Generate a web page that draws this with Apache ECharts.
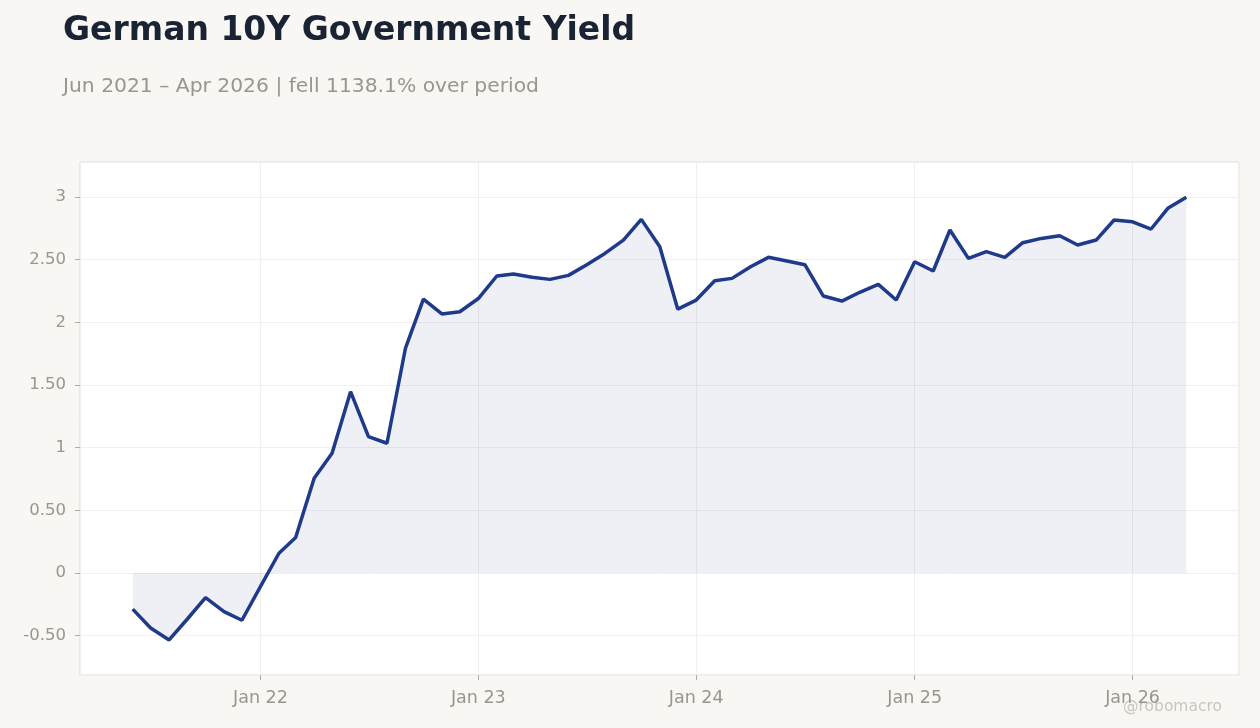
<!DOCTYPE html>
<html>
<head>
<meta charset="utf-8">
<script src="https://cdn.jsdelivr.net/npm/echarts@6/dist/echarts.min.js"></script>
<style>
  html, body { margin: 0; padding: 0; background: #f8f7f4; }
  #chart { width: 1260px; height: 728px; }
</style>
</head>
<body>
<div id="chart"></div>
<script>
// monthly readings, first of month
var startMonth = [2021, 5]; // Jun 2021 (month index 0-based)
var yields = [
  -0.289, -0.44, -0.535, -0.366, -0.197, -0.309, -0.378,       // Jun-Dec 21
  -0.11, 0.157, 0.282, 0.755, 0.955, 1.447, 1.088, 1.035, 1.795, 2.186, 2.067, 2.085, // 22
  2.19, 2.37, 2.386, 2.36, 2.343, 2.375, 2.458, 2.55, 2.657, 2.822, 2.604, 2.106,     // 23
  2.178, 2.332, 2.351, 2.444, 2.519, 2.49, 2.46, 2.21, 2.17, 2.24, 2.303, 2.178,      // 24
  2.484, 2.41, 2.737, 2.511, 2.564, 2.519, 2.636, 2.67, 2.691, 2.617, 2.657, 2.817,   // 25
  2.803, 2.745, 2.91, 2.998                                                          // Jan-Apr 26
];

var titleText = 'German 10Y Government Yield';
var subText = 'Jun 2021 \u2013 Apr 2026 | fell 1138.1% over period';

var lineColor = '#1f3a8a';
var labelColor = '#9a958f';

var points = yields.map(function (v, i) {
  return [Date.UTC(startMonth[0], startMonth[1] + i, 1), v];
});

// 5% padding on each side of the time range
var t0 = points[0][0], t1 = points[points.length - 1][0];
var pad = (t1 - t0) * 0.05;

var myChart = echarts.init(document.getElementById('chart'));

var option = {
  backgroundColor: '#f8f7f4',
  textStyle: { fontFamily: 'DejaVu Sans' },
  title: [{
    text: titleText,
    left: 58,
    top: 10,
    textStyle: { fontSize: 33, fontWeight: 'bold', color: '#1a2333', fontFamily: 'DejaVu Sans' }
  }, {
    text: subText,
    left: 58,
    top: 72,
    textStyle: { fontSize: 20.3, fontWeight: 'normal', color: '#9a958f', fontFamily: 'DejaVu Sans' }
  }],
  graphic: [{
    type: 'text',
    right: 38,
    bottom: 13,
    style: { text: '@robomacro', fontSize: 15.5, fill: '#c9c6c1', fontFamily: 'DejaVu Sans' }
  }],
  grid: {
    left: 80, right: 21, top: 162, bottom: 53,
    show: true,
    backgroundColor: '#ffffff',
    borderColor: '#e0dbd3',
    borderWidth: 1
  },
  xAxis: {
    type: 'time',
    min: t0 - pad,
    max: t1 + pad,
    splitNumber: 5,
    minInterval: 365 * 24 * 3600 * 1000,
    axisLine: { show: false, onZero: false },
    axisTick: { show: true, length: 5, lineStyle: { color: '#b0aca6' } },
    axisLabel: {
      color: labelColor,
      fontSize: 17.5,
      margin: 14,
      formatter: function (val) {
        var d = new Date(val);
        return 'Jan ' + String(d.getUTCFullYear()).slice(2);
      }
    },
    splitLine: { show: true, lineStyle: { color: '#efefef' } }
  },
  yAxis: {
    type: 'value',
    min: -0.815,
    max: 3.28,
    splitNumber: 8,
    axisLine: { show: false },
    axisTick: { show: true, length: 5, lineStyle: { color: '#b0aca6' } },
    axisLabel: {
      color: labelColor,
      fontSize: 16.5,
      margin: 14,
      showMinLabel: false,
      showMaxLabel: false,
      formatter: function (v) {
        if (Math.abs(v * 2 - Math.round(v * 2)) > 1e-6) return '';
        return (v % 1 === 0) ? String(v) : v.toFixed(2);
      }
    },
    splitLine: { show: true, lineStyle: { color: '#f0f0f0' } }
  },
  series: [{
    type: 'line',
    data: points,
    showSymbol: false,
    smooth: false,
    lineStyle: { color: lineColor, width: 3.5 },
    itemStyle: { color: lineColor },
    areaStyle: { color: 'rgba(31,58,138,0.075)', opacity: 1, origin: 0 }
  }]
};

myChart.setOption(option);
</script>
</body>
</html>
